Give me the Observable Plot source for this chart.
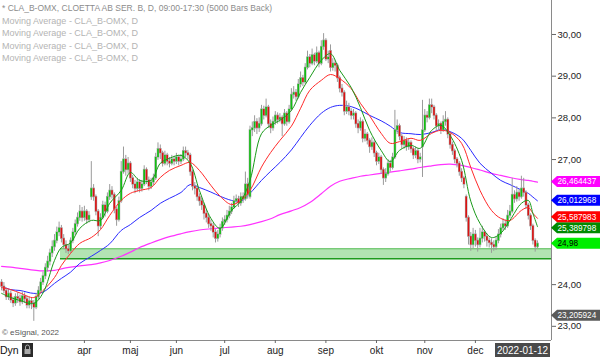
<!DOCTYPE html>
<html><head><meta charset="utf-8">
<script src="https://cdn.jsdelivr.net/npm/d3@7"></script>
<script src="https://cdn.jsdelivr.net/npm/@observablehq/plot@0.6"></script>
<style>
body{margin:0;background:#fff;font-family:"Liberation Sans",Arial,sans-serif;}
#wrap{position:relative;width:600px;height:357px;overflow:hidden;background:#fff}
#wrap svg{position:absolute;left:0;top:0}
.leg{position:absolute;left:2px;font-size:9px;white-space:nowrap;line-height:10px}
</style></head><body><div id="wrap"></div>
<script>
// ---- data (daily candles, index 0 = first visible trading day, last = 2022-01-12) ----
const open=[24.05,23.95,23.85,23.70,23.78,23.62,23.55,23.70,23.66,23.58,
23.72,23.65,23.50,23.60,23.55,23.45,23.70,23.85,24.05,24.20,
24.40,24.55,24.75,24.90,25.05,25.25,25.35,25.10,24.95,24.85,
24.80,25.05,25.25,25.45,25.60,25.75,25.60,25.75,25.55,26.10,
26.30,26.10,25.75,25.40,25.60,25.90,25.75,26.10,26.25,26.15,
25.80,25.55,26.00,26.70,27.00,26.75,26.90,26.55,26.40,26.30,
26.45,26.30,26.40,26.75,26.50,26.35,26.45,26.55,27.05,27.25,
27.15,26.90,27.10,26.95,26.90,27.00,26.95,27.05,26.95,27.00,
27.20,27.15,27.10,26.70,26.35,26.30,26.10,26.00,25.90,25.70,
25.60,25.45,25.40,25.25,25.10,25.20,25.35,25.50,25.55,25.65,
25.75,25.85,26.00,26.05,25.95,26.10,26.05,26.40,26.10,27.70,
27.75,27.90,27.75,27.85,28.20,28.05,28.25,27.85,27.75,27.90,
28.05,27.95,28.00,27.85,28.10,27.90,28.20,28.55,28.60,28.50,
28.80,28.95,28.85,29.20,29.45,29.30,29.50,29.35,29.55,29.30,
29.70,29.85,29.40,29.60,29.20,29.30,29.25,28.95,28.70,28.60,
28.15,28.25,28.15,28.05,28.10,27.85,27.75,27.90,27.50,27.60,
27.45,27.30,27.40,27.15,26.95,27.05,26.75,26.55,26.65,26.90,
26.80,27.05,27.70,27.80,27.55,27.35,27.45,27.30,27.40,27.25,
27.10,27.20,27.00,27.30,27.70,28.05,28.00,28.30,28.25,28.05,
27.80,27.85,27.70,27.90,27.95,27.60,27.35,27.20,27.00,26.90,
26.70,26.55,26.10,25.60,25.15,24.95,25.20,25.05,24.95,25.10,
25.25,25.15,25.05,25.00,24.95,24.90,25.05,25.20,25.35,25.45,
25.40,25.65,25.75,26.15,26.05,26.20,26.10,26.30,26.20,25.90,
25.65,25.40,25.05,24.90];
const close=[23.95,23.85,23.70,23.78,23.62,23.55,23.70,23.66,23.58,23.72,
23.65,23.50,23.60,23.55,23.45,23.70,23.85,24.05,24.20,24.40,
24.55,24.75,24.90,25.05,25.25,25.35,25.10,24.95,24.85,24.80,
25.05,25.25,25.45,25.60,25.75,25.60,25.75,25.55,25.65,26.30,
26.10,25.75,25.40,25.60,25.90,25.75,26.10,26.25,26.15,25.80,
25.55,26.00,26.70,27.00,26.75,26.90,26.55,26.40,26.30,26.45,
26.30,26.40,26.75,26.50,26.35,26.45,26.55,27.05,27.25,27.15,
26.90,27.10,26.95,26.90,27.00,26.95,27.05,26.95,27.00,27.20,
27.15,27.10,26.70,26.35,26.30,26.10,26.00,25.90,25.70,25.60,
25.45,25.40,25.25,25.10,25.20,25.35,25.50,25.55,25.65,25.75,
25.85,26.00,26.05,25.95,26.10,26.05,26.40,26.15,27.70,27.75,
27.90,27.75,27.85,28.20,28.05,28.25,27.85,27.75,27.90,28.05,
27.95,28.00,27.85,28.10,27.90,28.20,28.55,28.60,28.50,28.80,
28.95,28.85,29.20,29.45,29.30,29.50,29.35,29.55,29.30,29.70,
29.85,29.40,29.45,29.20,29.30,29.25,28.95,28.70,28.60,28.15,
28.25,28.15,28.05,28.10,27.85,27.75,27.90,27.50,27.60,27.45,
27.30,27.40,27.15,26.95,27.05,26.75,26.55,26.65,26.90,26.80,
27.05,27.70,27.80,27.55,27.35,27.45,27.30,27.40,27.25,27.10,
27.20,27.00,27.05,27.70,28.05,28.00,28.30,28.25,28.05,27.80,
27.85,27.70,27.90,27.95,27.60,27.35,27.20,27.00,26.90,26.70,
26.55,26.40,25.60,25.15,24.95,25.20,25.05,24.95,25.10,25.25,
25.15,25.05,25.00,24.95,24.90,25.05,25.20,25.35,25.45,25.40,
25.65,25.75,26.15,26.05,26.20,26.10,26.30,26.20,25.90,25.65,
25.40,25.05,24.90,24.98];
const high=[24.12,24.05,23.92,23.88,23.85,23.70,23.78,23.80,23.75,23.82,
23.80,23.72,23.70,23.68,23.62,23.78,23.95,24.15,24.30,24.50,
24.68,24.85,25.05,25.20,25.38,25.50,25.42,25.20,25.05,24.95,
25.12,25.35,25.55,25.72,25.90,25.85,25.88,25.80,25.75,26.95,
26.40,26.15,25.80,25.70,26.00,25.98,26.20,26.40,26.35,26.20,
25.85,26.10,26.95,27.30,27.10,27.05,26.95,26.62,26.50,26.55,
26.52,26.50,26.85,26.80,26.58,26.55,26.65,27.15,27.40,27.35,
27.20,27.20,27.15,27.05,27.10,27.08,27.15,27.10,27.12,27.30,
27.30,27.22,27.15,26.75,26.45,26.38,26.18,26.08,25.95,25.78,
25.68,25.55,25.48,25.32,25.30,25.45,25.60,25.65,25.78,25.88,
25.95,26.12,26.15,26.12,26.20,26.20,26.70,26.55,27.80,27.90,
28.05,27.98,28.00,28.30,28.28,28.45,28.30,27.95,28.02,28.15,
28.12,28.10,28.05,28.20,28.15,28.30,28.70,28.75,28.68,28.92,
29.10,29.02,29.30,29.60,29.52,29.65,29.55,29.70,29.60,29.85,
30.02,29.90,29.60,29.75,29.42,29.38,29.30,29.00,28.80,28.65,
28.40,28.35,28.22,28.20,28.15,27.95,28.00,27.95,27.72,27.65,
27.50,27.52,27.45,27.20,27.15,27.10,26.80,26.78,27.00,26.98,
27.15,28.18,27.95,27.85,27.60,27.55,27.52,27.50,27.45,27.30,
27.30,27.25,27.15,28.42,28.20,28.15,28.45,28.45,28.30,28.10,
27.95,27.90,28.05,28.15,28.00,27.65,27.42,27.25,27.05,26.95,
26.78,26.60,26.15,25.65,25.25,25.35,25.30,25.12,25.35,25.40,
25.30,25.22,25.12,25.10,25.05,25.15,25.32,25.45,25.58,25.55,
25.78,25.90,26.55,26.25,26.35,26.28,26.60,26.55,26.25,25.95,
25.70,25.45,25.10,25.05];
const low=[23.85,23.78,23.62,23.62,23.55,23.45,23.48,23.55,23.48,23.52,
23.55,23.42,23.42,23.40,23.12,23.40,23.62,23.78,23.98,24.12,
24.30,24.45,24.65,24.80,24.98,25.15,25.00,24.85,24.75,24.72,
24.75,24.98,25.18,25.38,25.52,25.50,25.52,25.45,25.48,26.02,
26.00,25.65,25.15,25.32,25.55,25.62,25.70,26.02,26.05,25.70,
25.40,25.50,25.95,26.65,26.60,26.65,26.45,26.30,26.18,26.22,
26.20,26.22,26.35,26.40,26.25,26.28,26.38,26.50,26.98,27.00,
26.82,26.85,26.85,26.80,26.85,26.85,26.88,26.85,26.88,26.95,
27.05,27.00,26.60,26.25,26.15,26.00,25.88,25.78,25.55,25.48,
25.35,25.28,25.12,25.00,25.02,25.12,25.28,25.42,25.48,25.58,
25.68,25.80,25.92,25.85,25.88,25.95,26.00,26.05,26.05,27.55,
27.65,27.60,27.65,27.80,27.95,28.00,27.75,27.62,27.68,27.82,
27.85,27.88,27.55,27.80,27.80,27.85,28.15,28.45,28.40,28.45,
28.72,28.75,28.80,29.15,29.20,29.25,29.25,29.30,29.20,29.25,
29.62,29.35,29.30,29.10,29.12,29.10,28.85,28.60,28.50,28.05,
28.08,28.05,27.95,27.95,27.75,27.62,27.68,27.40,27.42,27.35,
27.15,27.22,27.05,26.85,26.88,26.65,26.38,26.45,26.60,26.70,
26.75,27.00,27.60,27.45,27.25,27.25,27.20,27.22,27.15,27.00,
27.02,26.90,26.92,26.57,27.65,27.88,27.95,28.10,27.95,27.70,
27.70,27.60,27.65,27.80,27.50,27.25,27.10,26.90,26.80,26.60,
26.45,26.30,25.50,24.95,24.80,24.85,24.90,24.78,24.88,25.00,
25.02,24.90,24.88,24.75,24.80,24.82,24.98,25.12,25.28,25.30,
25.35,25.58,25.70,25.95,25.98,26.00,26.05,26.10,25.80,25.55,
25.30,24.95,24.78,24.85];

// moving averages read at these candle indices
const maIdx=[0,4,8,14,18,23,26,30,34,39,43,47,52,56,60,65,69,73,78,82,86,91,95,100,104,108,113,117,121,126,130,134,139,143,147,152,156,160,165,169,173,178,182,187,191,195,200,204,208,213,217,221,226,229,231,233];
const maShort=[23.79,23.69,23.62,23.55,23.80,24.58,24.89,25.00,25.35,25.54,25.54,25.95,26.26,26.69,26.50,26.50,26.91,27.03,27.10,26.91,26.26,25.59,25.35,25.78,26.00,26.50,27.62,27.82,27.94,28.18,28.61,28.97,29.38,29.54,29.14,28.73,28.25,27.70,27.22,26.95,27.22,27.34,27.27,27.70,27.82,27.58,26.98,26.00,25.47,25.13,25.23,25.54,25.95,26.02,25.71,25.39];
const maMid=[23.93,23.88,23.80,23.69,23.86,24.17,24.46,24.75,24.99,25.13,25.32,25.66,26.02,26.19,26.26,26.33,26.57,26.74,26.86,26.93,26.74,26.38,26.12,25.92,26.02,26.26,26.82,27.17,27.46,27.80,28.23,28.66,28.90,29.04,28.94,28.70,28.35,28.05,27.63,27.39,27.43,27.51,27.46,27.63,27.70,27.65,27.39,26.81,26.26,25.78,25.59,25.54,25.78,25.85,25.71,25.59];
const maLong=[23.96,23.88,23.86,23.79,23.82,24.03,24.15,24.30,24.51,24.68,24.82,24.98,25.30,25.44,25.61,25.78,25.95,26.07,26.21,26.40,26.33,26.22,26.12,26.02,26.00,26.19,26.50,26.72,26.93,27.23,27.53,27.82,28.11,28.25,28.30,28.27,28.18,28.06,27.93,27.80,27.65,27.62,27.60,27.65,27.72,27.67,27.51,27.22,26.91,26.67,26.50,26.40,26.27,26.19,26.10,26.01];
const ma200=[24.44,24.42,24.39,24.35,24.33,24.34,24.38,24.42,24.45,24.48,24.52,24.58,24.68,24.78,24.89,25.00,25.08,25.15,25.22,25.27,25.31,25.34,25.36,25.38,25.40,25.44,25.51,25.58,25.68,25.77,25.85,25.97,26.18,26.36,26.48,26.55,26.60,26.63,26.67,26.70,26.73,26.77,26.81,26.85,26.88,26.89,26.86,26.81,26.75,26.67,26.62,26.57,26.52,26.50,26.48,26.46];

// support zone
const zoneStart=25.6, zoneLow=24.62, zoneHigh=24.86;

// axes (25,00 and 26,00 sit under value badges in the reference)
const monthIdx=[36,56,76,97,119,141,163,184,206];
const monthNames=["apr","maj","jun","jul","aug","sep","okt","nov","dec"];
const yTicks=[23,24,27,28,29,30];

// right-axis value badges (nudge = small vertical shift used to keep badges apart)
const badgeValues=[23.205924,24.98,25.389798,25.587983,26.012968,26.464437];
const badgeLabels=["23,205924","24,98","25,389798","25,587983","26,012968","26,464437"];
const badgeFills=["#5a5a5a","#00ee00","#008a00","#ff0000","#0000ff","#ff00ff"];
const badgeInk=["#fff","#000","#fff","#fff","#fff","#fff"];
const badgeNudge=[-2,0,1.5,-1.2,0,0];

const legendLines=["* CLA_B-OMX, CLOETTA AB SER. B, D, 09:00-17:30 (5000 Bars Back)","Moving Average - CLA_B-OMX, D","Moving Average - CLA_B-OMX, D","Moving Average - CLA_B-OMX, D","Moving Average - CLA_B-OMX, D"];

// ---- build ----
const candles=open.map((o,i)=>({i,o,c:close[i],h:high[i],l:low[i],up:close[i]>=o}));
const mk=(arr)=>maIdx.map((i,k)=>({i,v:arr[k]}));
const xDomain=[-0.478,239.09];
const yDomain=[22.66,30.815];

const chart=Plot.plot({
  width:600,height:357,marginLeft:0,marginRight:49,marginTop:0,marginBottom:17,
  style:{background:"transparent",fontFamily:"'Liberation Sans',Arial,sans-serif",color:"#222",overflow:"visible"},
  x:{domain:xDomain,axis:null},
  y:{domain:yDomain,axis:null},
  marks:[
    Plot.rect([{a:zoneStart,b:xDomain[1],lo:zoneLow,hi:zoneHigh}],{x1:"a",x2:"b",y1:"lo",y2:"hi",fill:"#b3e3b3"}),
    Plot.ruleY([zoneHigh],{x1:zoneStart,x2:xDomain[1],stroke:"#5cbf5c",strokeWidth:1}),
    Plot.ruleY([zoneLow],{x1:zoneStart,x2:xDomain[1],stroke:"#1e9a1e",strokeWidth:1.6}),
    Plot.line(mk(ma200),{x:"i",y:"v",stroke:"#ff33ff",strokeWidth:1.2,curve:"catmull-rom"}),
    Plot.line(mk(maLong),{x:"i",y:"v",stroke:"#2a2aff",strokeWidth:1,curve:"catmull-rom"}),
    Plot.ruleX(candles,{x:"i",y1:"l",y2:"h",stroke:"#9a9a9a",strokeWidth:1}),
    Plot.ruleX(candles,{x:"i",y1:d=>Math.min(d.o,d.c)-0.015,y2:d=>Math.max(d.o,d.c)+0.015,stroke:"#a8a8a8",strokeWidth:2.6}),
    Plot.ruleX(candles,{x:"i",y1:d=>Math.min(d.o,d.c),y2:d=>Math.max(d.o,d.c),stroke:d=>d.up?"#10c010":"#dd1111",strokeWidth:1.6}),
    Plot.line(mk(maMid),{x:"i",y:"v",stroke:"#ff2a2a",strokeWidth:1,curve:"catmull-rom"}),
    Plot.line(mk(maShort),{x:"i",y:"v",stroke:"#1a9a1a",strokeWidth:1,curve:"catmull-rom"}),
    Plot.ruleX([xDomain[1]],{stroke:"#8a8a8a",strokeWidth:1}),
    Plot.ruleY([yDomain[0]],{stroke:"#8a8a8a",strokeWidth:1}),
    Plot.axisY({anchor:"right",ticks:yTicks,tickFormat:d=>d.toFixed(2).replace(".",","),tickSize:4,tickPadding:2,fontSize:9.5,stroke:"#666"}),
    Plot.axisX({ticks:monthIdx,tickFormat:d=>monthNames[monthIdx.indexOf(d)],tickSize:3,tickPadding:3,fontSize:10,stroke:"#666"})
  ]
});
document.getElementById("wrap").appendChild(chart);

// badges drawn with the chart's own y scale
const ys=chart.scale("y");
const svg=d3.select(chart);
const xr=551;
const g=svg.append("g").attr("font-family","'Liberation Sans',Arial,sans-serif").attr("font-size",8.2).attr("text-anchor","start");
badgeValues.forEach((v,k)=>{
  const y=ys.apply(v)+badgeNudge[k];
  g.append("path").attr("d",`M${xr},${y} L${xr+6},${y-5.5} L600,${y-5.5} L600,${y+5.5} L${xr+6},${y+5.5} Z`).attr("fill",badgeFills[k]);
  g.append("text").attr("x",xr+6.5).attr("y",y+3).attr("text-anchor","start").attr("fill",badgeInk[k]).text(badgeLabels[k]);
});

// bottom strip: Dyn, lock, date badge
const b=svg.append("g").attr("font-family","'Liberation Sans',Arial,sans-serif").attr("text-anchor","start");
b.append("text").attr("x",0).attr("y",354).attr("font-size",10.5).attr("fill","#111").attr("text-anchor","start").text("Dyn");
b.append("rect").attr("x",22).attr("y",343).attr("width",11).attr("height",14).attr("fill","#2a2a2a");
b.append("path").attr("d","M25.5,349 v-2 a2,2 0 0 1 4,0 v2").attr("fill","none").attr("stroke","#aaa").attr("stroke-width",1);
b.append("rect").attr("x",24.5).attr("y",349).attr("width",6).attr("height",5).attr("fill","#aaa");
b.append("rect").attr("x",495).attr("y",343).attr("width",55).attr("height",14).attr("fill","#4a4a4a");
b.append("text").attr("x",522.5).attr("y",354).attr("text-anchor","middle").attr("font-size",10).attr("fill","#fff").text("2022-01-12");
b.append("text").attr("x",2).attr("y",335).attr("font-size",8).attr("fill","#555").attr("text-anchor","start").text("© eSignal, 2022");

// legend
const wrap=document.getElementById("wrap");
legendLines.forEach((t,k)=>{
  const d=document.createElement("div");
  d.className="leg";
  d.style.top=(3+k*12.6)+"px";
  d.style.color=k===0?"#8c8c8c":"#b4b4b4";
  if(k===0){d.style.fontSize="8.5px";}
  d.textContent=t;
  wrap.appendChild(d);
});
</script></body></html>
